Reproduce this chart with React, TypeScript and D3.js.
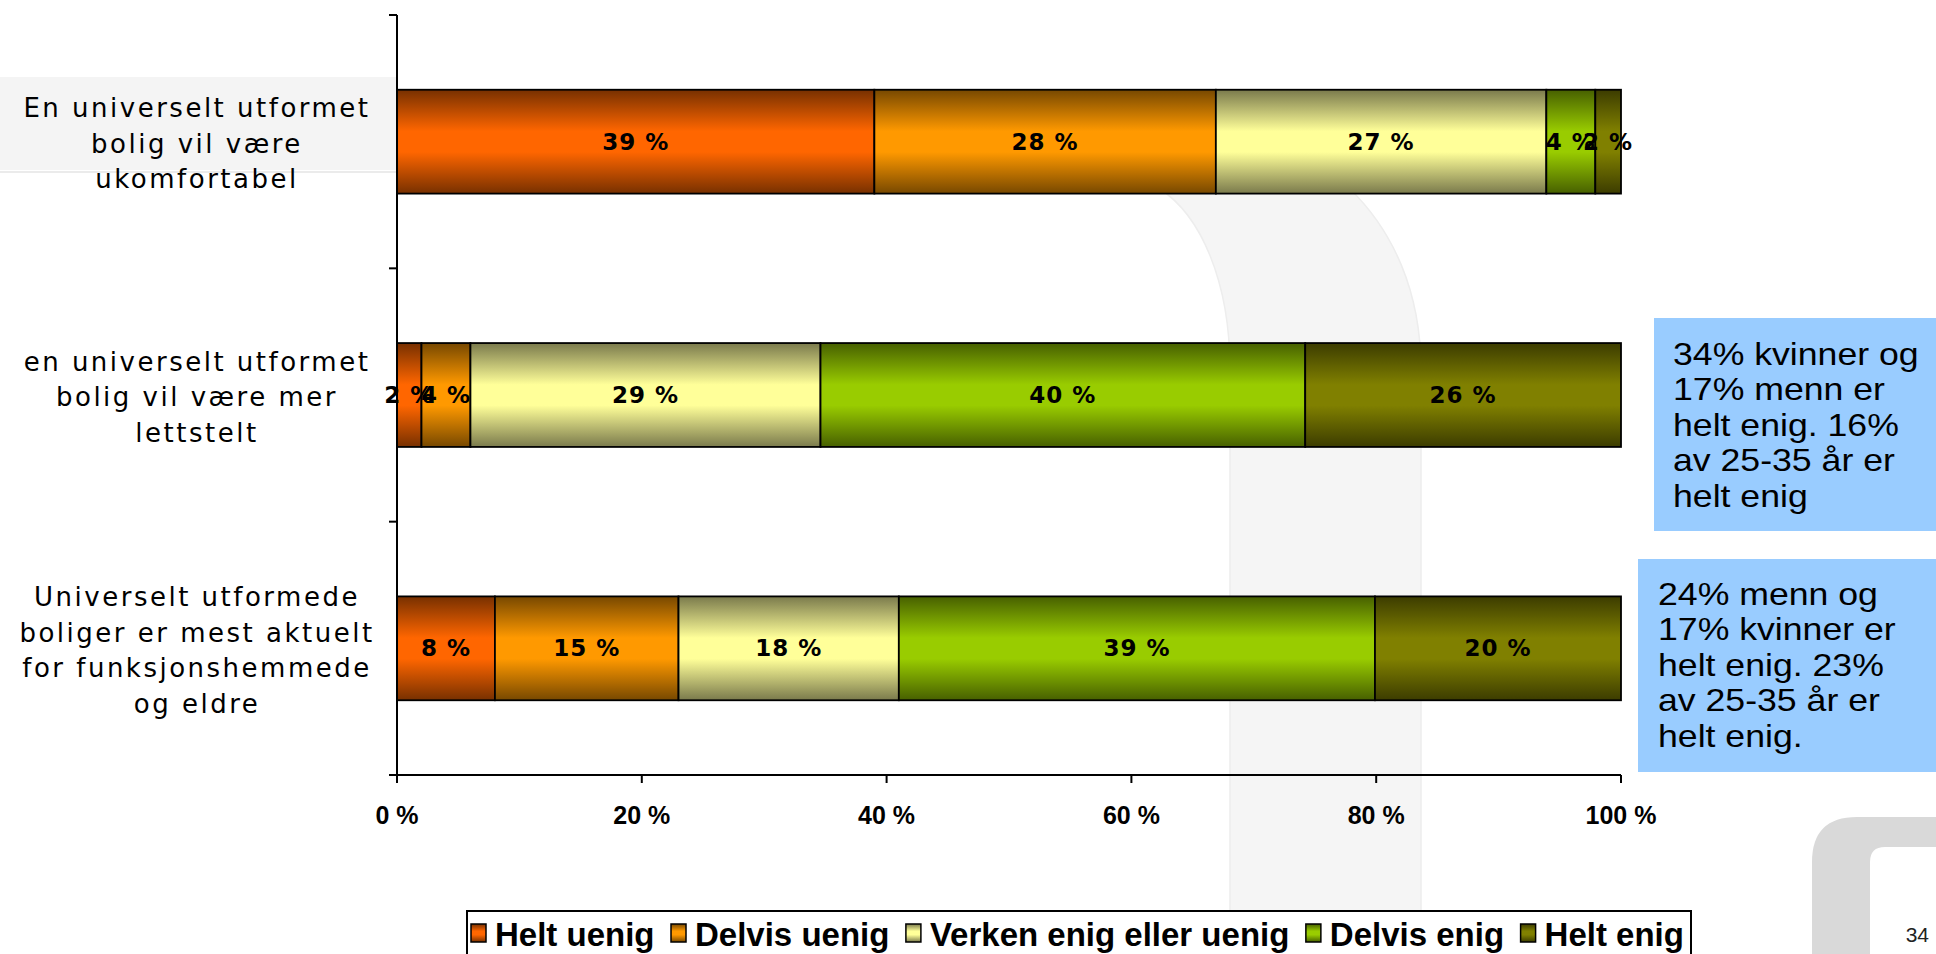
import React from "react";
import * as d3 from "d3";

const categories = [
  "En universelt utformet\nbolig vil være\nukomfortabel",
  "en universelt utformet\nbolig vil være mer\nlettstelt",
  "Universelt utformede\nboliger er mest aktuelt\nfor funksjonshemmede\nog eldre",
];
const seriesNames = [
  "Helt uenig",
  "Delvis uenig",
  "Verken enig eller uenig",
  "Delvis enig",
  "Helt enig",
];
const heltUenig = [39, 2, 8];
const delvisUenig = [27.9, 4, 15];
const verkenEnig = [27, 28.6, 18];
const delvisEnig = [4, 39.6, 38.9];
const heltEnig = [2.1, 25.8, 20.1];
const xTicks = [0, 20, 40, 60, 80, 100];
const noteKvinner = ["34% kvinner og", "17% menn er", "helt enig. 16%", "av 25-35 år er", "helt enig"];
const noteMenn = ["24% menn og", "17% kvinner er", "helt enig. 23%", "av 25-35 år er", "helt enig."];

const midColors = ["#ff6600", "#ff9900", "#ffff99", "#99cc00", "#808000"];
const edgeColors = ["#773000", "#774800", "#7a7a4c", "#476000", "#3c3c00"];

const W = 1936;
const H = 954;
const margin = { top: 15, right: 315, bottom: 179, left: 397 };

const rows = categories.map((c, i) => ({
  cat: c,
  [seriesNames[0]]: heltUenig[i],
  [seriesNames[1]]: delvisUenig[i],
  [seriesNames[2]]: verkenEnig[i],
  [seriesNames[3]]: delvisEnig[i],
  [seriesNames[4]]: heltEnig[i],
}));

let ctx: CanvasRenderingContext2D | null = null;
function textWidth(t: string, font: string) {
  if (!ctx) ctx = document.createElement("canvas").getContext("2d");
  if (!ctx) return t.length * 16;
  ctx.font = font;
  return ctx.measureText(t).width;
}

// text box to the right of a bar
function Note({ x, y, textX, firstY, lines }: { x: number; y: number; textX: number; firstY: number; lines: string[] }) {
  return (
    <g>
      <rect x={x} y={y} width={W - x} height={213} fill="#99ccff" />
      <g transform={`translate(${textX},0) scale(1.15,1)`}>
        <text fontFamily="'Liberation Sans', Arial, sans-serif" fontSize={31} fill="#000">
          {lines.map((l, k) => (
            <tspan key={k} x={0} y={firstY + k * 35.4}>
              {l}
            </tspan>
          ))}
        </text>
      </g>
    </g>
  );
}

export default function App() {
  const x = d3
    .scaleLinear()
    .domain([0, 100])
    .range([margin.left, W - margin.right]);
  const y = d3
    .scaleBand()
    .domain(categories)
    .range([margin.top, H - margin.bottom])
    .paddingInner(0.59)
    .paddingOuter(0.295);
  const step = y.step();
  const stacked = d3.stack().keys(seriesNames)(rows as any);

  const legendFont = "bold 33px 'Liberation Sans', Arial, sans-serif";
  let lx = 471;
  const legendItems = seriesNames.map((name, i) => {
    const item = { name, i, x: lx };
    lx += 15 + 9 + textWidth(name, legendFont) + 16.5;
    return item;
  });

  const yBottom = H - margin.bottom;

  return (
    <svg
      width={W}
      height={H}
      style={{ position: "absolute", left: 0, top: 0, background: "#fff" }}
    >
      <defs>
        {seriesNames.map((s, i) => (
          <linearGradient key={s} id={`g${i}`} x1="0" y1="0" x2="0" y2="1">
            <stop offset="0" stopColor={edgeColors[i]} />
            <stop offset="0.4" stopColor={midColors[i]} />
            <stop offset="0.6" stopColor={midColors[i]} />
            <stop offset="1" stopColor={edgeColors[i]} />
          </linearGradient>
        ))}
      </defs>

      {/* watermark shapes */}
      <rect x={0} y={77} width={margin.left} height={93} fill="#f4f4f4" />
      <line x1={0} x2={margin.left} y1={172} y2={172} stroke="#ebebeb" strokeWidth={2} />
      <path
        d="M1160,189 C1200,215 1230,280 1230,370 L1230,954 L1421,954 L1421,370 C1421,290 1392,230 1350,189 Z"
        fill="#f5f5f5"
        stroke="#ededed"
        strokeWidth={1.5}
      />
      <path
        d="M1812,954 L1812,862 Q1812,817 1857,817 L1936,817 L1936,847 L1885,847 Q1870,847 1870,862 L1870,954 Z"
        fill="#d9d9d9"
      />

      {/* category labels */}
      {categories.map((c) => {
        const lines = c.split("\n");
        const cy = (y(c) as number) + y.bandwidth() / 2;
        return (
          <text
            key={c}
            x={197}
            textAnchor="middle"
            fontFamily="'DejaVu Sans', Verdana, sans-serif"
            fontSize={26}
            letterSpacing={2.5}
            fill="#000"
          >
            {lines.map((l, k) => (
              <tspan key={k} x={197} y={cy + (k - (lines.length - 1) / 2) * 35.5 + 11}>
                {l}
              </tspan>
            ))}
          </text>
        );
      })}

      {/* bars */}
      {stacked.map((layer, si) => (
        <g key={layer.key}>
          {layer.map((d, ci) => (
            <rect
              key={ci}
              x={x(d[0])}
              y={y(categories[ci])}
              width={x(d[1]) - x(d[0])}
              height={y.bandwidth()}
              fill={`url(#g${si})`}
              stroke="#000"
              strokeWidth={1.8}
            />
          ))}
        </g>
      ))}
      {stacked.map((layer) => (
        <g key={`lab-${layer.key}`}>
          {layer.map((d, ci) => (
            <text
              key={ci}
              x={x((d[0] + d[1]) / 2)}
              y={(y(categories[ci]) as number) + y.bandwidth() / 2 + 8}
              textAnchor="middle"
              fontFamily="'DejaVu Sans', Verdana, sans-serif"
              fontWeight="bold"
              fontSize={23}
              letterSpacing={1}
              fill="#000"
            >
              {`${Math.round(d[1] - d[0])} %`}
            </text>
          ))}
        </g>
      ))}

      {/* y axis */}
      <line x1={margin.left} x2={margin.left} y1={margin.top} y2={yBottom} stroke="#000" strokeWidth={2} />
      {d3.range(categories.length + 1).map((k) => (
        <line
          key={k}
          x1={margin.left - 8}
          x2={margin.left}
          y1={margin.top + k * step}
          y2={margin.top + k * step}
          stroke="#000"
          strokeWidth={2}
        />
      ))}

      {/* x axis */}
      <line x1={margin.left} x2={x(100)} y1={yBottom} y2={yBottom} stroke="#000" strokeWidth={2} />
      {xTicks.map((t) => (
        <g key={t}>
          <line x1={x(t)} x2={x(t)} y1={yBottom} y2={yBottom + 8} stroke="#000" strokeWidth={2} />
          <text
            x={x(t)}
            y={yBottom + 49}
            textAnchor="middle"
            fontFamily="'Liberation Sans', Arial, sans-serif"
            fontWeight="bold"
            fontSize={25}
            fill="#000"
          >
            {`${t} %`}
          </text>
        </g>
      ))}

      {/* notes */}
      <Note x={1654} y={318} textX={1673} firstY={365} lines={noteKvinner} />
      <Note x={1638} y={559} textX={1658} firstY={605} lines={noteMenn} />

      {/* legend */}
      <rect x={467} y={911} width={1224} height={60} fill="#fff" stroke="#000" strokeWidth={2} />
      {legendItems.map((it) => (
        <g key={it.name}>
          <rect
            x={it.x}
            y={924}
            width={15}
            height={18}
            fill={`url(#g${it.i})`}
            stroke="#000"
            strokeWidth={1.5}
          />
          <text
            x={it.x + 24}
            y={946}
            fontFamily="'Liberation Sans', Arial, sans-serif"
            fontWeight="bold"
            fontSize={33}
            fill="#000"
          >
            {it.name}
          </text>
        </g>
      ))}

      <text
        x={1929}
        y={942}
        textAnchor="end"
        fontFamily="'Liberation Sans', Arial, sans-serif"
        fontSize={21}
        fill="#222"
      >
        34
      </text>
    </svg>
  );
}
